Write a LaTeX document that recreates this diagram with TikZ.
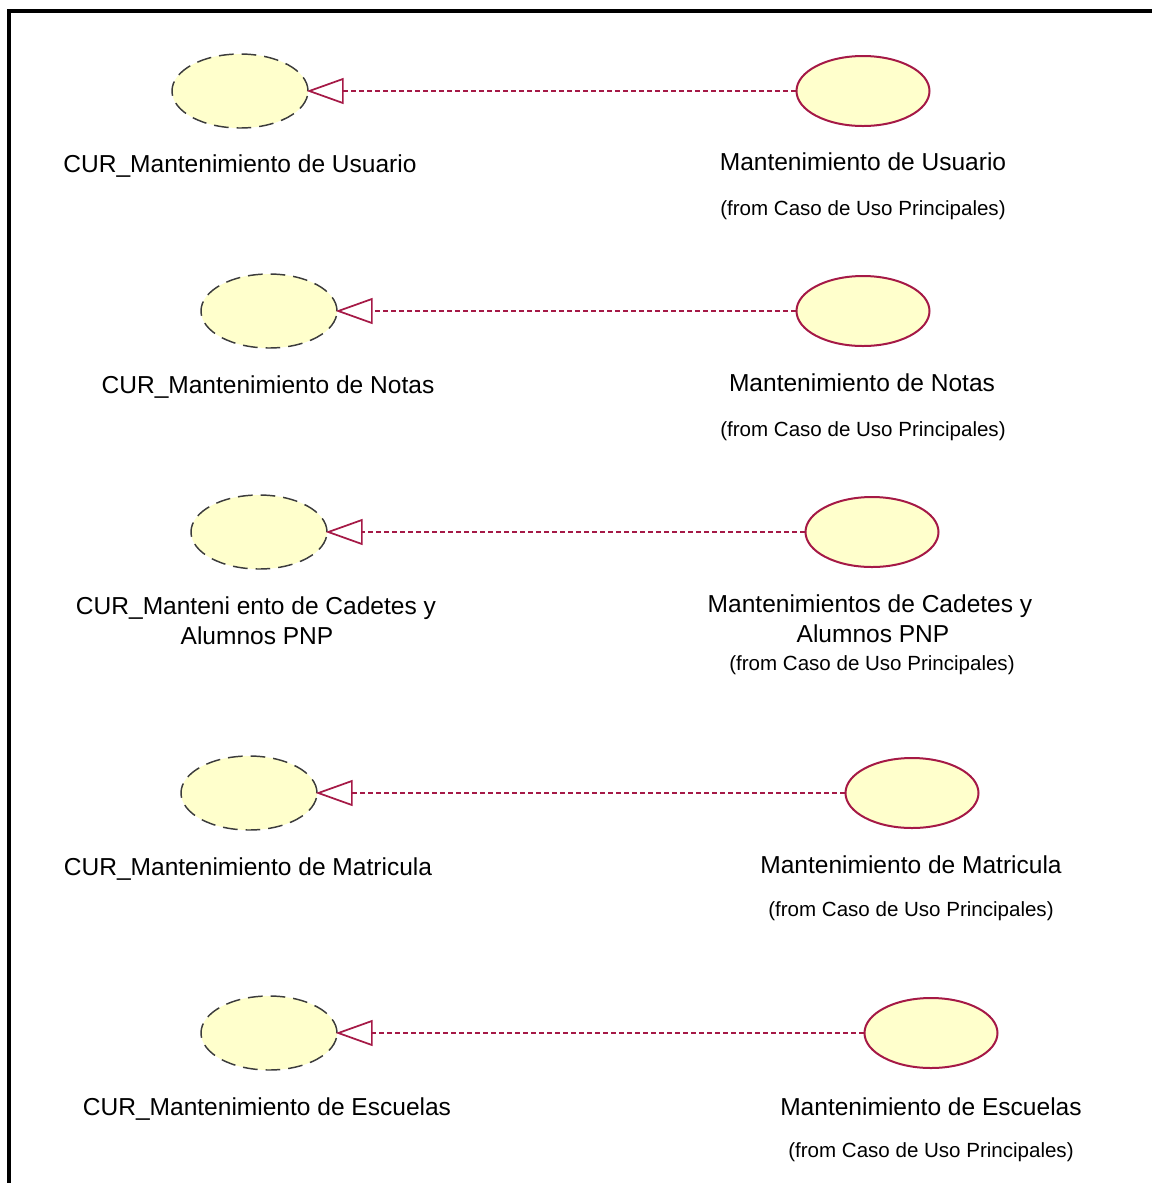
\documentclass[tikz,border=0pt]{standalone}
\usepackage{fontspec}
\setmainfont{Liberation Sans}
\usetikzlibrary{shapes.geometric,arrows.meta}
\definecolor{ucfill}{RGB}{255,255,204}
\definecolor{ucred}{RGB}{165,25,70}
\definecolor{ucgray}{RGB}{60,60,60}
\tikzset{
  curcase/.style={ellipse, draw=ucgray, fill=ucfill, line width=1.1pt,
    dash pattern=on 11pt off 6pt, minimum width=102pt, minimum height=55.5pt, inner sep=0pt},
  maincase/.style={ellipse, draw=ucred, fill=ucfill, line width=1.5pt,
    minimum width=99.75pt, minimum height=52.5pt, inner sep=0pt},
  realize/.style={draw=ucred, line width=1.1pt, dash pattern=on 3.75pt off 2.25pt,
    shorten >=-1.5pt,
    -{Triangle[open, length=27.75pt, width=19.5pt, line width=1.3pt]}},
  biglabel/.style={anchor=base, inner sep=0pt, font=\fontsize{18.4}{22}\selectfont},
  fromlabel/.style={anchor=base, inner sep=0pt, font=\fontsize{15.4}{18}\selectfont}
}
\begin{document}
\begin{tikzpicture}[x=0.75pt, y=-0.75pt]
\useasboundingbox (0,0) rectangle (1152,1183);
% frame
\draw[line width=2.3pt] (9,1190) -- (9,11) -- (1160,11);

% Row 1
\node[curcase] (L1) at (240,91) {};
\node[maincase] (R1) at (863,91) {};
\draw[realize] (R1.west) -- (L1.east);
\node[biglabel] (L1t) at (240,172) {CUR\_Mantenimiento de Usuario};
\node[biglabel] (R1t) at (863,170) {Mantenimiento de Usuario};
\node[fromlabel] (R1f) at (863,215) {(from Caso de Uso Principales)};

% Row 2
\node[curcase] (L2) at (269,311) {};
\node[maincase] (R2) at (863,311) {};
\draw[realize] (R2.west) -- (L2.east);
\node[biglabel] (L2t) at (268,393) {CUR\_Mantenimiento de Notas};
\node[biglabel] (R2t) at (862,391) {Mantenimiento de Notas};
\node[fromlabel] (R2f) at (863,436) {(from Caso de Uso Principales)};

% Row 3
\node[curcase] (L3) at (259,532) {};
\node[maincase] (R3) at (872,532) {};
\draw[realize] (R3.west) -- (L3.east);
\node[biglabel] (L3t) at (256,614) {CUR\_Manteni ento de Cadetes y};
\node[biglabel] (L3u) at (257,644) {Alumnos PNP};
\node[biglabel] (R3t) at (870,612) {Mantenimientos de Cadetes y};
\node[biglabel] (R3u) at (873,642) {Alumnos PNP};
\node[fromlabel] (R3f) at (872,670) {(from Caso de Uso Principales)};

% Row 4
\node[curcase] (L4) at (249,793) {};
\node[maincase] (R4) at (912,793) {};
\draw[realize] (R4.west) -- (L4.east);
\node[biglabel] (L4t) at (248,875) {CUR\_Mantenimiento de Matricula};
\node[biglabel] (R4t) at (911,873) {Mantenimiento de Matricula};
\node[fromlabel] (R4f) at (911,916) {(from Caso de Uso Principales)};

% Row 5
\node[curcase] (L5) at (269,1033) {};
\node[maincase] (R5) at (931,1033) {};
\draw[realize] (R5.west) -- (L5.east);
\node[biglabel] (L5t) at (267,1115) {CUR\_Mantenimiento de Escuelas};
\node[biglabel] (R5t) at (931,1115) {Mantenimiento de Escuelas};
\node[fromlabel] (R5f) at (931,1157) {(from Caso de Uso Principales)};
\end{tikzpicture}
\end{document}
